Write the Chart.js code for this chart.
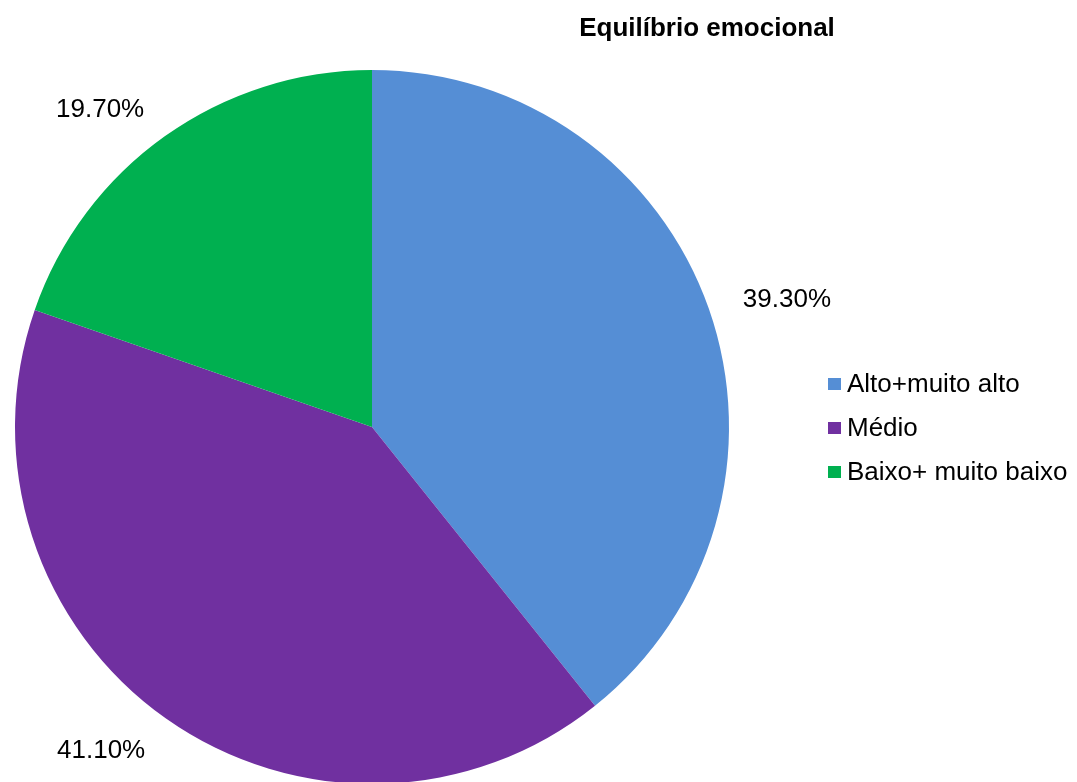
<!DOCTYPE html>
<html>
<head>
<meta charset="utf-8">
<script src="https://cdn.jsdelivr.net/npm/chart.js@4"></script>
<style>
    html, body { margin: 0; padding: 0; background: #fff; overflow: hidden; }
    #wrap { position: absolute; left: 0; top: 0; width: 1077px; height: 800px; }
</style>
</head>
<body>
<div id="wrap"><canvas id="chart"></canvas></div>
<script>
const title = 'Equilíbrio emocional';
const categories = ['Alto+muito alto', 'Médio', 'Baixo+ muito baixo'];
const values = [39.3, 41.1, 19.7];
const valueLabels = ['39.30%', '41.10%', '19.70%'];
const colors = ['#558ED5', '#7030A0', '#00B050'];

const FONT = '"Liberation Sans", Arial, sans-serif';

// outside labels, title and legend drawn after the pie
const extras = {
    id: 'extras',
    afterDraw(chart) {
        const ctx = chart.ctx;
        const arcs = chart.getDatasetMeta(0).data;
        ctx.save();
        ctx.fillStyle = '#000';
        ctx.textBaseline = 'middle';

        // data labels
        ctx.font = '26px ' + FONT;
        ctx.textAlign = 'center';
        arcs.forEach((arc, i) => {
            const mid = (arc.startAngle + arc.endAngle) / 2;
            const d = arc.outerRadius + 36;
            const w = ctx.measureText(valueLabels[i]).width;
            const cx = arc.x + Math.cos(mid) * d + Math.sign(Math.cos(mid)) * w / 2;
            const cy = arc.y + Math.sin(mid) * d + 3;
            ctx.fillText(valueLabels[i], cx, cy);
        });

        // title
        ctx.font = 'bold 26px ' + FONT;
        ctx.fillText(title, 707, 29);

        // legend
        ctx.font = '26px ' + FONT;
        ctx.textAlign = 'left';
        categories.forEach((c, i) => {
            const y = 385 + i * 44;
            ctx.fillStyle = colors[i];
            ctx.fillRect(828, y - 7, 13, 12);
            ctx.fillStyle = '#000';
            ctx.fillText(c, 847, y);
        });
        ctx.restore();
    }
};

new Chart(document.getElementById('chart').getContext('2d'), {
    type: 'pie',
    data: {
        labels: categories,
        datasets: [{
            data: values,
            backgroundColor: colors,
            borderWidth: 0
        }]
    },
    options: {
        responsive: true,
        maintainAspectRatio: false,
        animation: false,
        layout: {
            padding: { left: 15, top: 70, right: 348, bottom: 16 }
        },
        plugins: {
            legend: { display: false },
            title: { display: false },
            tooltip: { enabled: false }
        }
    },
    plugins: [extras]
});
</script>
</body>
</html>
